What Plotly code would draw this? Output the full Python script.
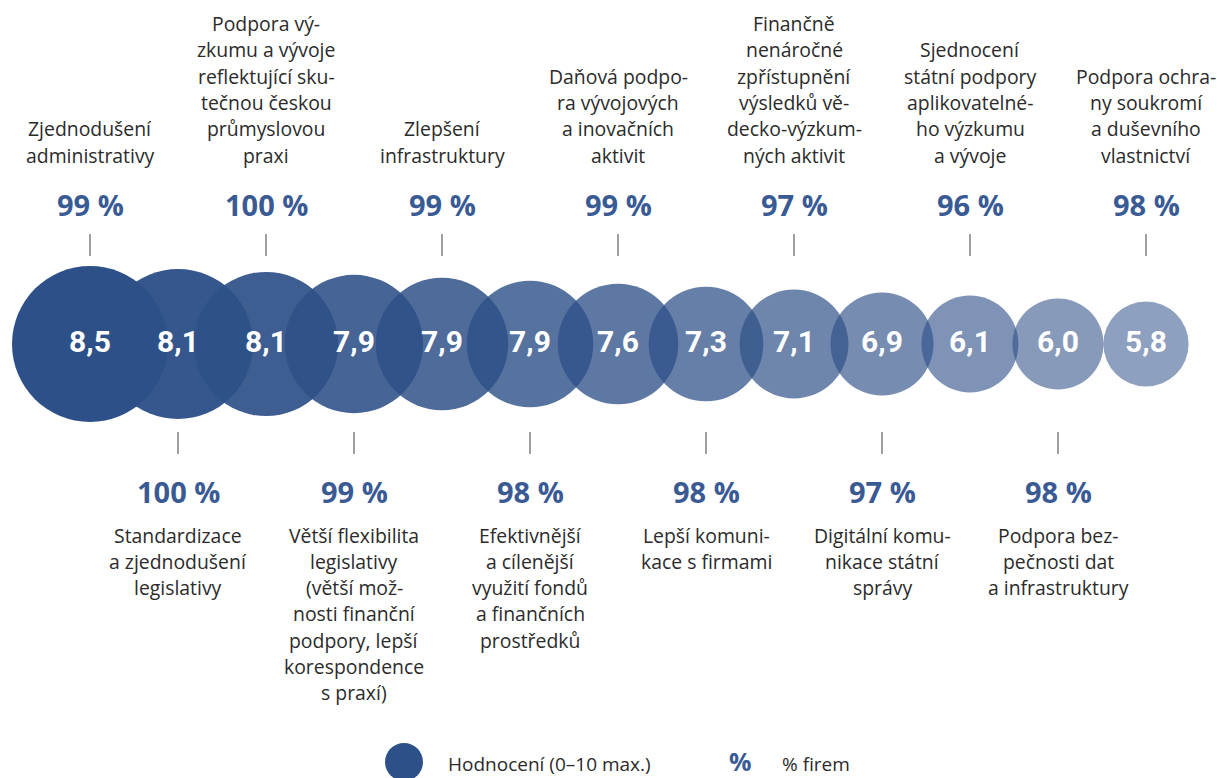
import plotly.graph_objects as go

# ---------------- data ----------------
categories = [
    "Zjednodušení\nadministrativy",
    "Standardizace\na zjednodušení\nlegislativy",
    "Podpora vý-\nzkumu a vývoje\nreflektující sku-\ntečnou českou\nprůmyslovou\npraxi",
    "Větší flexibilita\nlegislativy\n(větší mož-\nnosti finanční\npodpory, lepší\nkorespondence\ns praxí)",
    "Zlepšení\ninfrastruktury",
    "Efektivnější\na cílenější\nvyužití fondů\na finančních\nprostředků",
    "Daňová podpo-\nra vývojových\na inovačních\naktivit",
    "Lepší komuni-\nkace s firmami",
    "Finančně\nnenáročné\nzpřístupnění\nvýsledků vě-\ndecko-výzkum-\nných aktivit",
    "Digitální komu-\nnikace státní\nsprávy",
    "Sjednocení\nstátní podpory\naplikovatelné-\nho výzkumu\na vývoje",
    "Podpora bez-\npečnosti dat\na infrastruktury",
    "Podpora ochra-\nny soukromí\na duševního\nvlastnictví",
]
ratings = [8.5, 8.1, 8.1, 7.9, 7.9, 7.9, 7.6, 7.3, 7.1, 6.9, 6.1, 6.0, 5.8]
shares = [99, 100, 100, 99, 99, 98, 99, 98, 97, 97, 96, 98, 98]

legend_rating = "Hodnocení (0–10 max.)"
legend_share = "% firem"

# ---------------- layout constants ----------------
W, H = 1217, 778
X0_PX, STEP_PX = 90, 88          # pixel position of first bubble, spacing
ROW_Y = 344                      # bubble row (pixel y)
BASE_RGB = (46, 80, 136)
PCT_COLOR = "#3A5A94"
TXT_COLOR = "#2B2B2B"
TICK_COLOR = "#A0A0A0"
LABEL_FONT = "Open Sans, Noto Sans, sans-serif"
NUM_FONT = "Roboto, sans-serif"
LINE_H = 26.3
LABEL_SIZE = 19.4

n = len(ratings)
idx = list(range(n))
sizes = [2 * (78 - 2.95 * i) for i in idx]
colors = [
    "rgba(%d,%d,%d,%.3f)" % (*BASE_RGB, 1.0 - 0.46 * i / (n - 1)) for i in idx
]

fig = go.Figure()
fig.add_trace(
    go.Scatter(
        x=idx,
        y=[ROW_Y] * n,
        mode="markers+text",
        marker=dict(size=sizes, color=colors, opacity=1, line=dict(width=0)),
        text=[("%.1f" % v).replace(".", ",") for v in ratings],
        textposition="middle center",
        textfont=dict(family=NUM_FONT, size=30, color="white", weight="bold"),
        hoverinfo="skip",
        showlegend=False,
    )
)

annotations = []
shapes = []
for i in idx:
    lines = categories[i].split("\n")
    top = i % 2 == 0
    pct = "%d %%" % shares[i]
    if top:
        annotations.append(dict(x=i, y=204, text="<b>%s</b>" % pct, showarrow=False,
                                font=dict(family=LABEL_FONT, size=29, color=PCT_COLOR),
                                xanchor="center", yanchor="middle"))
        shapes.append(dict(type="line", x0=i, x1=i, y0=234, y1=256, xref="x", yref="y",
                           line=dict(color=TICK_COLOR, width=2)))
        last_y = 155
        for k, ln in enumerate(lines):
            y = last_y - (len(lines) - 1 - k) * LINE_H
            annotations.append(dict(x=i, y=y, text=ln, showarrow=False,
                                    font=dict(family=LABEL_FONT, size=LABEL_SIZE, color=TXT_COLOR),
                                    xanchor="center", yanchor="middle"))
    else:
        annotations.append(dict(x=i, y=491, text="<b>%s</b>" % pct, showarrow=False,
                                font=dict(family=LABEL_FONT, size=29, color=PCT_COLOR),
                                xanchor="center", yanchor="middle"))
        shapes.append(dict(type="line", x0=i, x1=i, y0=432, y1=454, xref="x", yref="y",
                           line=dict(color=TICK_COLOR, width=2)))
        first_y = 535
        for k, ln in enumerate(lines):
            y = first_y + k * LINE_H
            annotations.append(dict(x=i, y=y, text=ln, showarrow=False,
                                    font=dict(family=LABEL_FONT, size=LABEL_SIZE, color=TXT_COLOR),
                                    xanchor="center", yanchor="middle"))

# legend (bottom)
def px(xp):
    return xp / W

shapes.append(dict(type="circle", xref="paper", yref="y",
                   x0=px(385), x1=px(423), y0=743, y1=781,
                   fillcolor="rgb(%d,%d,%d)" % BASE_RGB, line=dict(width=0)))
annotations.append(dict(xref="paper", yref="y", x=px(446), y=764, text=legend_rating,
                        showarrow=False, xanchor="left", yanchor="middle",
                        font=dict(family=LABEL_FONT, size=19, color=TXT_COLOR)))
annotations.append(dict(xref="paper", yref="y", x=px(740), y=761, text="<b>%</b>",
                        showarrow=False, xanchor="center", yanchor="middle",
                        font=dict(family=LABEL_FONT, size=25, color=PCT_COLOR)))
annotations.append(dict(xref="paper", yref="y", x=px(780), y=764, text=legend_share,
                        showarrow=False, xanchor="left", yanchor="middle",
                        font=dict(family=LABEL_FONT, size=19, color=TXT_COLOR)))

fig.update_layout(
    width=W, height=H, autosize=False,
    margin=dict(l=0, r=0, t=0, b=0),
    paper_bgcolor="white", plot_bgcolor="white",
    xaxis=dict(range=[-X0_PX / STEP_PX, (W - X0_PX) / STEP_PX], visible=False, fixedrange=True),
    yaxis=dict(range=[H, 0], visible=False, fixedrange=True),
    annotations=annotations,
    shapes=shapes,
    showlegend=False,
)

fig.write_html("out.html")
